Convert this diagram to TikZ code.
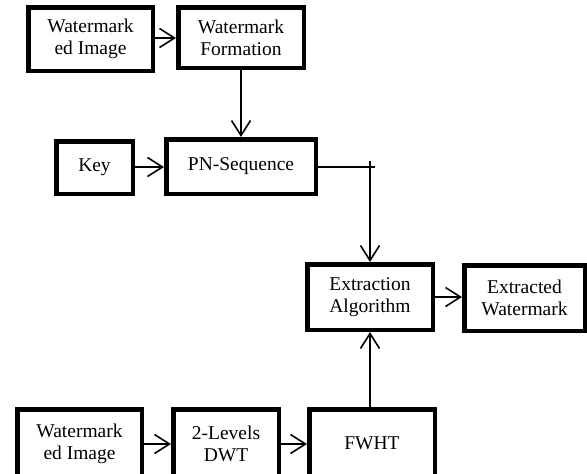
\documentclass[tikz,border=0pt]{standalone}
\usepackage{fontspec}
\setmainfont{Liberation Serif}
\usetikzlibrary{arrows.meta}

\tikzset{
  blk/.style={draw, line width=4.5pt, align=center, inner sep=2pt,
    font=\fontsize{19.5}{22}\selectfont},
  flow/.style={line width=1.5pt, -{Straight Barb[length=15pt,width=19pt,line width=1.6pt]}}
}

\begin{document}
\begin{tikzpicture}[x=1pt, y=-1pt]
\newcommand\lw{4.5}
\useasboundingbox (0,0) rectangle (587,474);
\clip (0,0) rectangle (587,474);

% top row
\node[blk, minimum width=129pt-\lw pt, minimum height=68pt-\lw pt] (wmimga) at (90.5,39) {Watermark\\ed Image};
\node[blk, minimum width=130pt-\lw pt, minimum height=65pt-\lw pt] (wmform) at (241,37.5) {Watermark\\Formation};
% key and sequence
\node[blk, minimum width=81pt-\lw pt, minimum height=57pt-\lw pt] (key) at (94.5,167.5) {Key};
\node[blk, minimum width=154pt-\lw pt, minimum height=59pt-\lw pt] (pnseq) at (241,166.5) {PN-Sequence};
% extraction
\node[blk, minimum width=130pt-\lw pt, minimum height=70pt-\lw pt] (extalg) at (370,297) {Extraction\\Algorithm};
\node[blk, minimum width=125pt-\lw pt, minimum height=70pt-\lw pt] (extwm) at (524.5,298) {Extracted\\Watermark};
% bottom row (cut by the page edge)
\node[blk, minimum width=129pt-\lw pt, minimum height=73pt-\lw pt] (wmimgb) at (79.5,443.5) {Watermark\\ed Image};
\node[blk, minimum width=110pt-\lw pt, minimum height=73pt-\lw pt] (dwt) at (226,443.5) {2-Levels\\DWT};
\node[blk, minimum width=130pt-\lw pt, minimum height=73pt-\lw pt] (fwht) at (372,443.5) {FWHT};

% arrows
\draw[flow] (wmimga.east |- 0,38) -- (wmform.west |- 0,38);
\draw[flow] (wmform.south) -- (pnseq.north);
\draw[flow] (key.east |- 0,167) -- (pnseq.west |- 0,167);
\coordinate (pnend) at (375,167);
\coordinate (bend) at (370,161);
\draw[line width=1.5pt] (pnseq.east |- pnend) -- (pnend);
\draw[flow] (bend) -- (extalg.north);
\draw[flow] (extalg.east |- 0,297) -- (extwm.west |- 0,297);
\draw[flow] (wmimgb.east |- 0,444) -- (dwt.west |- 0,444);
\draw[flow] (dwt.east |- 0,444) -- (fwht.west |- 0,444);
\draw[flow] (fwht.north -| extalg.south) -- (extalg.south);
\end{tikzpicture}
\end{document}
